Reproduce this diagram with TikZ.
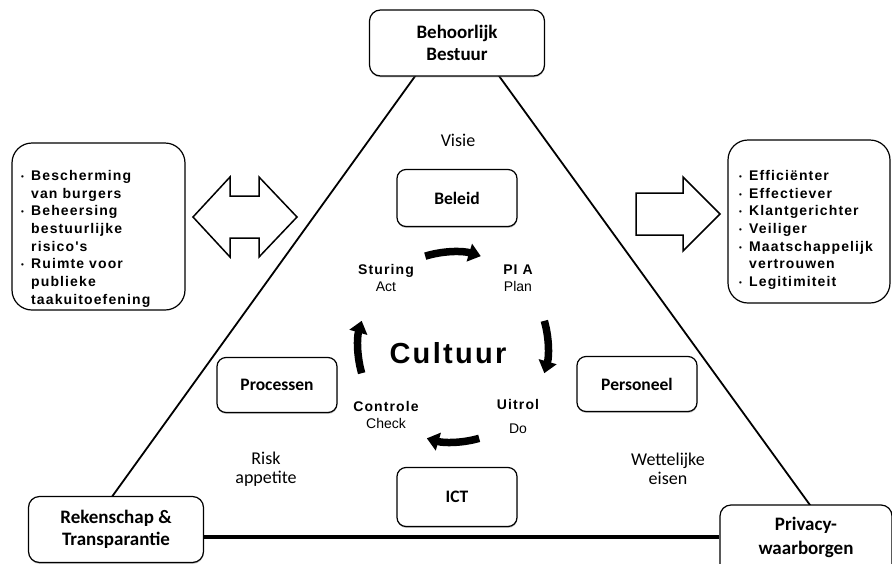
\documentclass[tikz,border=0pt]{standalone}
\usepackage{fontspec}
\setmainfont{Carlito}
\newfontfamily\arialsp[LetterSpace=8]{Liberation Sans}
\newfontfamily\arial{Liberation Sans}
\usetikzlibrary{arrows.meta,shadows}

\newcommand{\bul}{\makebox[10pt][l]{\raisebox{1pt}{\fontsize{8}{8}\selectfont\textbullet}}}
\newcommand{\cnt}{\hspace*{10pt}}

\begin{document}
\begin{tikzpicture}[x=1pt,y=-1pt,
    box/.style={draw, fill=white, line width=1.2pt, rounded corners=9pt, align=center,
      drop shadow={shadow xshift=0.3pt, shadow yshift=-1.4pt, opacity=0.45},
      font=\fontsize{17.5}{21}\selectfont\bfseries, minimum width=120pt, minimum height=57pt, inner sep=0pt},
    corner/.style={box, rounded corners=11pt, minimum width=175pt, minimum height=66pt,
      font=\fontsize{19}{22}\selectfont\bfseries},
    listbox/.style={draw, line width=1.2pt, rounded corners=20pt, inner sep=0pt},
    listtext/.style={anchor=north west, inner sep=0pt, align=left,
      font=\arialsp\fontsize{14}{17.7}\selectfont\bfseries},
    side/.style={align=center, font=\fontsize{18}{19}\selectfont},
    phase/.style={align=center, font=\arialsp\fontsize{14}{17}\selectfont\bfseries},
    cyc/.style={line width=7.5pt, -{Triangle[length=12pt,width=18pt]}},
    edge/.style={line width=1.8pt},
    block/.style={line width=1.5pt, line join=miter}
  ]
  \useasboundingbox (0,0) rectangle (892,563);
  \clip (0,0) rectangle (892,563);

  % triangle behind the corner boxes
  \coordinate (apex) at (457,18);
  \coordinate (bl) at (88,530);
  \coordinate (br) at (831,534);
  \coordinate (base) at (0,537);
  \draw[edge] (bl) -- (apex) -- (br);

  \node[corner] (bestuur) at (457,43) {Behoorlijk\\Bestuur};
  \node[corner] (rekensch) at (116,529.5) {Rekenschap \&\\Transparantie};
  \node[corner, minimum width=172pt, minimum height=74pt,
    font=\fontsize{19}{24}\selectfont\bfseries, text depth=12pt] (privacy) at (806,542) {Privacy-\\waarborgen};
  \draw[line width=3.2pt] (rekensch.east |- base) -- (privacy.west |- base);

  % inner boxes
  \node[box] (beleid) at (457,198) {Beleid};
  \node[box, minimum height=55pt] (processen) at (277,385) {Processen};
  \node[box, minimum height=55pt] (personeel) at (637,384) {Personeel};
  \node[box, minimum height=59pt] (ict) at (457,497) {ICT};

  \node[side] (visie) at (458,140) {Visie};
  \node[side] (risk) at (266,469) {Risk\\appetite};
  \node[side] (wet) at (668,469) {Wettelijke\\eisen};

  % cycle
  \node[font=\arialsp\fontsize{29}{30}\selectfont\bfseries] (cultuur) at (448,353) {Cultuur};
  \node[phase] (act) at (386,278) {Sturing\\{\arial\mdseries Act}};
  \node[phase] (plan) at (518,278) {PI A\\{\arial\mdseries Plan}};
  \node[phase] (check) at (386,415) {Controle\\{\arial\mdseries Check}};
  \node[phase] (do) at (518,416) {Uitrol\\[7pt]{\arial\mdseries Do}};

  \coordinate (hub) at (453,347);
  \draw[cyc] (hub) ++(-107:95) arc[start angle=-107, end angle=-73, radius=95];
  \draw[cyc] (hub) ++(-16:95) arc[start angle=-16, end angle=16, radius=95];
  \draw[cyc] (hub) ++(74:95) arc[start angle=74, end angle=106, radius=95];
  \draw[cyc] (hub) ++(164:95) arc[start angle=164, end angle=196, radius=95];

  % side lists
  \node[listbox, minimum width=173pt, minimum height=167pt] (doelen) at (98.5,226.5) {};
  \node[listtext] (doelentxt) at (21,170) {\bul Bescherming\\ \cnt van burgers\\
    \bul Beheersing\\ \cnt bestuurlijke\\ \cnt risico's\\ \bul Ruimte voor\\
    \cnt publieke\\ \cnt taakuitoefening};
  \node[listbox, minimum width=162pt, minimum height=163pt] (winst) at (809,221.5) {};
  \node[listtext] (winsttxt) at (739,170) {\bul Efficiënter\\ \bul Effectiever\\
    \bul Klantgerichter\\ \bul Veiliger\\ \bul Maatschappelijk\\ \cnt vertrouwen\\
    \bul Legitimiteit};

  % block arrows
  \draw[block] (193,217) -- (230,177) -- (230,196) -- (259,196) -- (259,177) -- (297,217)
    -- (259,257) -- (259,238) -- (230,238) -- (230,257) -- cycle;
  \draw[block] (636,193) -- (683,193) -- (683,177) -- (720,214) -- (683,251) -- (683,235)
    -- (636,235) -- cycle;
\end{tikzpicture}
\end{document}
